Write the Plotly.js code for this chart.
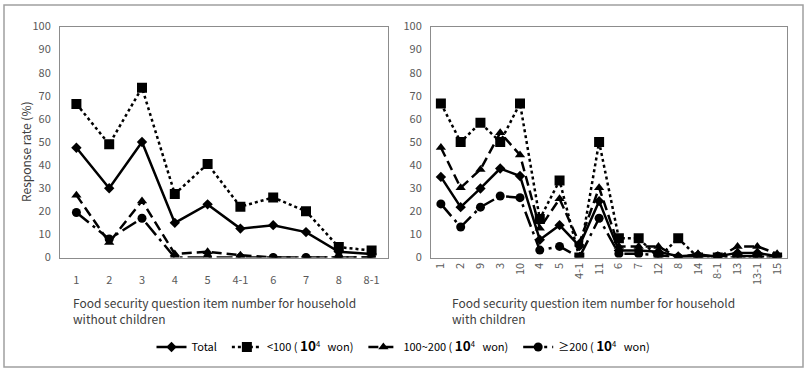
<!DOCTYPE html>
<html><head><meta charset="utf-8">
<script src="https://cdn.plot.ly/plotly-3.0.1.min.js"></script>
<style>html,body{margin:0;padding:0;background:#fff;} #chart{width:807px;height:370px;}</style>
</head><body><div id="chart"></div>
<script>
// Left panel: household without children
const catsA = ['1','2','3','4','5','4-1','6','7','8','8-1'];
const totalA = [47.5, 30, 50, 15, 23, 12.5, 14, 11, 2.5, 1.5];
const lowA   = [66.5, 49, 73.5, 27.5, 40.5, 22, 26, 20, 4.5, 3];
const midA   = [27, 6.5, 24.5, 1.5, 2.5, 1, 0, 0, 0, 0];
const highA  = [19.5, 8, 17, 0, 0, 0, 0, 0, 0, 0];

// Right panel: household with children
const catsB = ['1','2','9','3','10','4','5','4-1','11','6','7','12','8','14','8-1','13','13-1','15'];
const totalB = [34.9, 21.8, 29.9, 38.5, 35.3, 7.7, 14, 5, 24.4, 3, 3, 2.5, 0.5, 1, 0.5, 2, 2, 0.5];
const lowB   = [66.7, 50, 58.3, 50, 66.7, 16.7, 33.3, 0, 50, 8.3, 8.3, 0, 8.3, 0, 0, 0, 0, 0];
const midB   = [47.6, 30.2, 38.1, 54, 44.4, 12.7, 25.4, 6.3, 30.2, 4.8, 4.8, 4.8, 0, 1.6, 0, 4.8, 4.8, 1.6];
const highB  = [23.2, 13.2, 21.8, 26.6, 25.9, 3.2, 4.8, 0, 17, 1.6, 1.6, 1, 0, 0.5, 0.5, 0.5, 0.5, 0];

const NB = '\u00a0';
const unit = '(' + NB + '<b><span style="font-size:13.5px">10</span></b><sup>4</sup>' + NB + NB + NB + 'won)';
const seriesNames = ['Total' + NB + NB,
  '&lt;100' + NB + unit + NB + NB,
  '100~200' + NB + unit + NB + NB,
  '\u2265200' + NB + unit];

const styles = [
  {line:{color:'#000', width:2.5, dash:'solid'}, marker:{symbol:'diamond', size:8, color:'#000'}},
  {line:{color:'#000', width:2.5, dash:'3px,3px'}, marker:{symbol:'square', size:10, color:'#000'}},
  {line:{color:'#000', width:2.5, dash:'10px,5px'}, marker:{symbol:'triangle-up', size:9, color:'#000'}},
  {line:{color:'#000', width:2.5, dash:'16px,5px,3px,5px'}, marker:{symbol:'circle', size:9, color:'#000'}}
];

const dataA = [totalA, lowA, midA, highA];
const dataB = [totalB, lowB, midB, highB];
const traces = [];
dataA.forEach((ys, i) => traces.push(Object.assign({
  type:'scatter', mode:'lines+markers', x:catsA, y:ys, xaxis:'x', yaxis:'y',
  name:seriesNames[i], showlegend:true, legendgroup:'g'+i
}, JSON.parse(JSON.stringify(styles[i])))));
dataB.forEach((ys, i) => traces.push(Object.assign({
  type:'scatter', mode:'lines+markers', x:catsB, y:ys, xaxis:'x2', yaxis:'y2',
  name:seriesNames[i], showlegend:false, legendgroup:'g'+i
}, JSON.parse(JSON.stringify(styles[i])))));

const W = 807, H = 370;
const px = v => v / W, py = v => 1 - v / H;
const FAM = '"Noto Sans CJK KR", "Noto Sans", sans-serif';
const tickFont = {family:FAM, size:11, color:'#595959'};
const axisCommon = {showgrid:false, zeroline:false, showline:true, linecolor:'#8c8c8c', linewidth:1, mirror:true, ticks:'', tickfont:tickFont, fixedrange:true};

const layout = {
  width:W, height:H, margin:{l:0,r:0,t:0,b:0}, paper_bgcolor:'#fff', plot_bgcolor:'#fff',
  showlegend:true,
  legend:{orientation:'h', x:0.5, xanchor:'center', y:py(347), yanchor:'middle',
    font:{family:FAM, size:11, color:'#000'}, traceorder:'normal'},
  xaxis: Object.assign({}, axisCommon, {type:'category', domain:[px(60), px(388)], range:[-0.5, catsA.length-0.5], anchor:'y', tickangle:0, ticklabelstandoff:12}),
  yaxis: Object.assign({}, axisCommon, {domain:[py(257.5), py(26.5)], range:[0,100], dtick:10, anchor:'x', ticklabelstandoff:6}),
  xaxis2: Object.assign({}, axisCommon, {type:'category', domain:[px(431), px(787)], range:[-0.5, catsB.length-0.5], anchor:'y2', tickangle:-90}),
  yaxis2: Object.assign({}, axisCommon, {domain:[py(257.5), py(26.5)], range:[0,100], dtick:10, anchor:'x2', ticklabelstandoff:6}),
  annotations:[
    {xref:'paper', yref:'paper', x:px(25), y:py(152), xanchor:'center', yanchor:'middle', text:'Response rate (%)', textangle:-90, showarrow:false,
     font:{family:FAM, size:12, color:'#404040'}},
    {xref:'paper', yref:'paper', x:px(71), y:py(292), xanchor:'left', yanchor:'top', align:'left', showarrow:false,
     text:'Food security question item number for household<br>without children',
     font:{family:FAM, size:12, color:'#404040'}},
    {xref:'paper', yref:'paper', x:px(450), y:py(292), xanchor:'left', yanchor:'top', align:'left', showarrow:false,
     text:'Food security question item number for household<br>with children',
     font:{family:FAM, size:12, color:'#404040'}}
  ],
  shapes:[
    {type:'rect', xref:'paper', yref:'paper', x0:px(4), x1:px(803), y0:py(367), y1:py(5), line:{color:'#a0a0a0', width:1.5}}
  ]
};

Plotly.newPlot('chart', traces, layout, {displayModeBar:false, staticPlot:true});
</script>
</body></html>
